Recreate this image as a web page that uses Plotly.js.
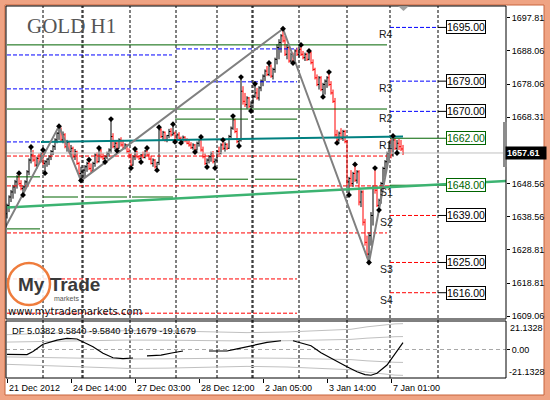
<!DOCTYPE html>
<html>
<head>
<meta charset="utf-8">
<script src="https://cdn.plot.ly/plotly-3.0.1.min.js"></script>
<style>
  html, body { margin: 0; padding: 0; background: #fff; }
  #chart { width: 550px; height: 400px; }
</style>
</head>
<body>
<div id="chart"></div>
<script>
// ---- GOLD H1 price bars (one entry per hourly bar, left to right) ----
const opens = [
  1639.5,1642,1644.5,1646,1647.5,1649,1650.5,1648.5,1647,1647.5,1649,1652,1655.5,1657,1655.5,1654,1656,1655,1657.5,1654.5,
  1655,1655.8,1656.5,1658,1659.5,1661.5,1663.5,1665,1661.5,1663,1659.5,1660.8,1658,1659,1656.5,1658,1654.5,1651.5,1652,1652.5,
  1653.5,1654.5,1653,1652.2,1654.5,1657,1655,1658.5,1656.5,1656,1656.5,1657.5,1658.5,1662.5,1659.5,1660.5,1659,1661.5,1660,1659.2,
  1660,1658,1657,1654,1656.5,1658,1656.5,1656,1657,1656.3,1658.2,1657,1655.8,1654.5,1655.5,1653.5,1654.8,1664.5,1662.5,1663.8,
  1661.5,1662.8,1664,1663,1663.5,1661.5,1663,1662,1661,1662.3,1661.3,1660.5,1660,1659.2,1660,1658.5,1660.5,1661.5,1658.5,1656.5,
  1654.5,1655.5,1656.5,1657.5,1655,1655.5,1658,1657.5,1660,1659,1660.2,1659,1662.5,1665,1667.5,1664,1661,1661.5,1676,1673,
  1672,1674,1671.5,1672.5,1674.5,1675.5,1674,1677,1679,1680.5,1682,1681,1683.5,1680.5,1682.5,1685.5,1689,1690.5,1692.5,1691,
  1687,1689,1685,1687,1685,1688,1687,1688.5,1687,1686,1687,1685.5,1687.5,1684.5,1682.5,1680,1678,1680,1676.5,1678,
  1679,1680,1678,1675.5,1673,1663,1661.5,1663.5,1662,1664,1661,1649,1650,1648.5,1651.5,1649.5,1652,1643,1646,1637,
  1631,1627.5,1633,1639,1647,1646.5,1642,1643.5,1648.5,1653,1655,1657.5,1660.5,1657,1661.5,1659,1660.5,1659.5,1658.8
];
const highs = [
  1642.5,1645,1646.6,1648.1,1649.6,1651,1651.6,1649.5,1648,1649.5,1652.5,1656,1659.4,1658.5,1657,1656.5,1657.5,1657.8,1658.5,1655.5,
  1656,1657,1658.5,1660,1662,1663.8,1665.6,1665.2,1664,1663.5,1661.5,1661,1660,1659.5,1658.8,1658.3,1655,1653.5,1653,1654,
  1655,1655.6,1654.5,1655,1657.5,1657.8,1659.1,1658.8,1657.5,1657,1658,1659,1667.7,1663.5,1661,1661,1662,1662.3,1661.5,1660.5,
  1660.3,1659,1657.5,1657,1658.8,1658.3,1657,1657.3,1658,1658.5,1659.1,1657.8,1656.8,1656,1655.8,1655,1665.3,1665,1664.2,1664,
  1663,1664.8,1665,1666.2,1664,1663.5,1663.8,1662.5,1662.8,1662.6,1662,1661.5,1660.8,1660.5,1660.3,1661,1661.8,1662.4,1659.5,1657.5,
  1656,1657,1658,1658.2,1656,1658.5,1659.5,1660.5,1661.5,1660.8,1660.5,1663,1665.5,1668.6,1667.8,1665,1662,1680.2,1677.5,1675.5,
  1674.5,1674.3,1673,1675,1678.2,1677,1677.5,1679.5,1681,1682.5,1683.5,1684.4,1684,1683,1686,1690,1691.5,1693,1694.6,1692.5,
  1690,1689.5,1687.5,1687.5,1688.5,1689,1689,1689.8,1688,1687.5,1687.5,1688,1687.8,1685.5,1683,1681,1680.5,1680.5,1678.5,1679.5,
  1680.5,1681.7,1679,1676.5,1674,1664.5,1664,1665,1664.5,1664.5,1661.5,1650.5,1652.5,1652,1654.2,1652.5,1652.5,1646.5,1646.5,1638,
  1633,1634,1640,1648,1653.1,1648,1644,1649,1653.5,1655.5,1658,1661,1662,1662.7,1662,1661.5,1661.8,1661.5,1660
];
const lows = [
  1638.1,1640,1643,1644,1645.5,1647,1648,1646.5,1645.1,1646.5,1648,1651,1654.5,1655,1653.5,1653,1654.5,1654.8,1654,1651.6,
  1653.5,1654,1655.5,1657,1658.5,1660.5,1661.5,1661,1660.5,1659,1658,1657.5,1656.5,1656,1655.5,1654,1651,1649.4,1649.8,1650.5,
  1652,1652.5,1651.8,1652,1653.5,1654.5,1654.8,1656,1655.5,1654.9,1655.8,1656.5,1657.5,1659,1658.6,1658.3,1658.9,1659.5,1658.8,1658.7,
  1657.5,1656,1653.1,1653.8,1655.5,1656,1655.5,1654.9,1656,1656,1656.8,1655.5,1654.2,1653.5,1653,1652.5,1654,1662,1661.5,1661,
  1660.8,1662,1662.5,1662.8,1660.9,1661,1661.5,1660.6,1660.8,1660.8,1660.2,1659.5,1658.8,1658.6,1657.9,1658.3,1659.5,1658,1656,1654,
  1653.4,1654.5,1655,1654.5,1653.1,1655,1657,1657.2,1658.5,1658,1658.5,1658.8,1662,1664.5,1663.5,1660.5,1659.7,1661,1672,1671.3,
  1670.8,1671,1670.1,1672,1674,1673.5,1673.2,1676,1677.5,1679,1680.5,1680.5,1680,1679.5,1681.5,1684,1685.5,1687.5,1690.5,1686.5,
  1685.5,1684.5,1684.6,1684.4,1684.8,1686.5,1686,1686.5,1685.5,1685,1685,1685.2,1684,1682,1679.5,1677.5,1676.5,1676,1674.3,1675,
  1677,1677.5,1675,1672.5,1662,1660.6,1661,1661.5,1661.2,1660.5,1648,1645.1,1648,1647.5,1649,1648.5,1642,1641.5,1636,1630,
  1626.5,1625.0,1630,1636,1645.5,1641.5,1640.6,1642.5,1647,1650.5,1653,1655.5,1656,1656.5,1658.5,1657.6,1658.5,1658.2,1657
];
const closes = [
  1642,1644.5,1646,1647.5,1649,1650.5,1648.5,1647,1647.5,1649,1652,1655.5,1657,1655.5,1654,1656,1655,1657.5,1654.5,1655,
  1655.8,1656.5,1658,1659.5,1661.5,1663.5,1665,1661.5,1663,1659.5,1660.8,1658,1659,1656.5,1658,1654.5,1651.5,1652,1652.5,1653.5,
  1654.5,1653,1652.2,1654.5,1657,1655,1658.5,1656.5,1656,1656.5,1657.5,1658.5,1662.5,1659.5,1660.5,1659,1661.5,1660,1659.2,1660,
  1658,1657,1654,1656.5,1658,1656.5,1656,1657,1656.3,1658.2,1657,1655.8,1654.5,1655.5,1653.5,1654.8,1664.5,1662.5,1663.8,1661.5,
  1662.8,1664,1663,1663.5,1661.5,1663,1662,1661,1662.3,1661.3,1660.5,1660,1659.2,1660,1658.5,1660.5,1661.5,1658.5,1656.5,1654.5,
  1655.5,1656.5,1657.5,1655,1655.5,1658,1657.5,1660,1659,1660.2,1659,1662.5,1665,1667.5,1664,1661,1661.5,1676,1673,1672,
  1674,1671.5,1672.5,1674.5,1675.5,1674,1677,1679,1680.5,1682,1681,1683.5,1680.5,1682.5,1685.5,1689,1690.5,1692.5,1691,1687,
  1689,1685,1687,1685,1688,1687,1688.5,1687,1686,1687,1685.5,1687.5,1684.5,1682.5,1680,1678,1680,1676.5,1678,1679,
  1680,1678,1675.5,1673,1663,1661.5,1663.5,1662,1664,1661,1649,1650,1648.5,1651.5,1649.5,1652,1643,1646,1637,1631,
  1627.5,1633,1639,1647,1646.5,1642,1643.5,1648.5,1653,1655,1657.5,1660.5,1657,1661.5,1659,1660.5,1659.5,1658.8,1657.61
];

// Fractal swing points (bar numbers)
const fractalUp = [6,12,18,26,41,46,52,64,70,76,83,97,108,113,117,124,131,138,147,151,161,174,184,193];
const fractalDown = [8,19,37,49,55,62,67,75,84,87,94,100,104,116,122,143,158,165,171,181,186,195];

// ZigZag swing line
const zigzagBars = [-1, 26, 37, 138, 181, 193];
const zigzagPrices = [1635.3, 1665.6, 1649.4, 1694.6, 1625.0, 1662.7];

// Trend lines (two anchor points each)
const tealTrendBars = [17, 198];
const tealTrendPrices = [1660.9, 1662.5];
const greenTrendBars = [0, 249.5];
const greenTrendPrices = [1641.4, 1649.3];

// Earlier pivot levels: [price, fromBar, toBar, kind]  P = pivot, R = resistance, S = support
const pastLevels = [
  [1689.8, 0, 190, 'P'], [1670.7, 0, 190, 'P'],
  [1686.8, 0, 82.5, 'R'], [1688.6, 84.5, 145, 'R'],
  [1676.7, 0, 82.5, 'R'], [1678.8, 84.5, 145, 'R'],
  [1667.7, 84, 104, 'P'], [1667.7, 106, 120.5, 'P'], [1667.7, 124, 145, 'P'],
  [1660.9, 0, 16.5, 'R'],
  [1656.7, 0, 190, 'S'],
  [1650.5, 0, 16.5, 'P'],
  [1647.8, 0, 191.5, 'S'],
  [1644.5, 18, 35.5, 'P'], [1644.5, 39, 60, 'P'], [1644.5, 62.5, 83, 'P'],
  [1649.8, 84, 104, 'P'], [1649.8, 106, 120.5, 'P'], [1649.8, 124, 145, 'P'],
  [1635.0, 0, 16.5, 'P'],
  [1633.8, 0, 190, 'S'],
  [1620.1, 0, 145, 'S'],
  [1609.9, 0, 145, 'S']
];

// Today's levels
const levelNames = ['R4', 'R3', 'R2', 'R1', 'S1', 'S2', 'S3', 'S4'];
const levelValues = [1695.00, 1679.00, 1670.00, 1662.00, 1648.00, 1639.00, 1625.00, 1616.00];
const todayRange = [191.5, 215.5];
const levelTagBar = 219.5;
const levelNameBar = 189.5;

// Day separators (bar positions)
const daySeparators = [18, 37.5, 38, 61.5, 84.5, 105, 122.5, 123, 146, 170, 191.5, 215.5];

// Time axis
const tickBars = [0, 32, 64, 96, 128, 160, 192];
const tickLabels = ['21 Dec 2012', '24 Dec 14:00', '27 Dec 03:00', '28 Dec 12:00', '2 Jan 05:00', '3 Jan 14:00', '7 Jan 01:00'];

// Price axis
const priceTicks = [1697.81, 1688.06, 1678.06, 1668.31, 1648.56, 1638.56, 1628.81, 1618.81, 1609.06];

// DF oscillator (null = no value drawn)
const dfBars = [0,5,10,13,18,25,30,35,38,43,48,53,58,63,66,70,77,83,88,95,101,110,115,122,130,137,140,143,148,152,157,162,166,170,175,179,182,185,190,194,196,198];
const dfValues = [-3.6,-3.9,-3.8,-1.5,3.9,7.0,8.3,7.8,5.8,2.1,-2.8,-6.1,-6.8,-6.3,null,-4.8,-4.1,-2.4,-1.1,null,-1.1,-1.1,0.4,2.8,5.3,6.5,null,6.5,4.6,2.8,-2.4,-6.5,-9.5,-12.8,-16.5,-18.6,-19.1,-17.6,-11.5,-2.8,1.0,5.0382];

// DF bands
const bandBars = [0, 20, 40, 60, 80, 100, 120, 140, 155, 165, 172, 180, 188, 194, 198];
const bandUpperOuter = [11.0, 12.0, 13.5, 14.0, 13.8, 13.0, 12.5, 13.0, 13.8, 14.3, 15.0, 16.8, 18.3, 19.0, 19.1679];
const bandUpperInner = [5.5, 6.0, 6.8, 7.0, 6.9, 6.5, 6.3, 6.5, 6.9, 7.2, 7.5, 8.4, 9.2, 9.5, 9.5840];
const bandLowerInner = [-5.5, -6.0, -6.8, -7.0, -6.9, -6.5, -6.3, -6.5, -6.9, -7.2, -7.5, -8.4, -9.2, -9.5, -9.5840];
const bandLowerOuter = [-11.0, -12.0, -13.5, -14.0, -13.8, -13.0, -12.5, -13.0, -13.8, -14.3, -15.0, -16.8, -18.3, -19.0, -19.1679];
const dfScaleMax = 21.1328;

// ---------------------------------------------------------------
const W = 550, H = 400, ML = 6, MR = 44, MT = 6, MB = 22;
const plotW = W - ML - MR, plotH = H - MT - MB;
const px = x => (x - ML) / plotW;
const py = y => (H - MB - y) / plotH;

const FONT = 'Liberation Sans, Arial, sans-serif';
const GREEN = '#006400', BLUE = '#0000ff', RED = '#ff0000';

const barIndex = closes.map((_, i) => i);
const lastClose = closes[closes.length - 1];

const traces = [];

// earlier levels
function pastTrace(kind, color, dash) {
  const xs = [], ys = [];
  pastLevels.filter(s => s[3] === kind).forEach(s => {
    xs.push(s[1], s[2], null); ys.push(s[0], s[0], null);
  });
  return { type: 'scatter', mode: 'lines', x: xs, y: ys, xaxis: 'x', yaxis: 'y',
           line: { color, width: 1, dash }, hoverinfo: 'skip' };
}
traces.push(pastTrace('R', BLUE, '4px,2px'));
traces.push(pastTrace('S', RED, '4px,2px'));
traces.push(pastTrace('P', GREEN, 'solid'));

// today's levels and their leaders to the value tags
levelNames.forEach((name, k) => {
  const v = levelValues[k];
  const pivotLike = name === 'R1' || name === 'S1';
  const col = pivotLike ? GREEN : (name[0] === 'R' ? BLUE : RED);
  traces.push({ type: 'scatter', mode: 'lines', x: todayRange, y: [v, v], xaxis: 'x', yaxis: 'y',
    line: { color: col, width: 1, dash: pivotLike ? 'solid' : '4px,2px' }, hoverinfo: 'skip' });
  traces.push({ type: 'scatter', mode: 'lines', x: [todayRange[1], levelTagBar], y: [v, v], xaxis: 'x', yaxis: 'y',
    line: { color: pivotLike ? GREEN : '#000', width: 1 }, hoverinfo: 'skip' });
});

// bid line
traces.push({ type: 'scatter', mode: 'lines', x: [-0.5, 249.5], y: [lastClose, lastClose], xaxis: 'x', yaxis: 'y',
  line: { color: '#c0c0c0', width: 1 }, hoverinfo: 'skip' });

// trend lines
traces.push({ type: 'scatter', mode: 'lines', x: greenTrendBars, y: greenTrendPrices, xaxis: 'x', yaxis: 'y',
  line: { color: '#3cb371', width: 2.5 }, hoverinfo: 'skip' });
traces.push({ type: 'scatter', mode: 'lines', x: tealTrendBars, y: tealTrendPrices, xaxis: 'x', yaxis: 'y',
  line: { color: '#008080', width: 2 }, hoverinfo: 'skip' });

// price bars
traces.push({ type: 'ohlc', x: barIndex, open: opens, high: highs, low: lows, close: closes,
  xaxis: 'x', yaxis: 'y', tickwidth: 0.5,
  increasing: { line: { color: '#000000', width: 1 } },
  decreasing: { line: { color: '#ff0000', width: 1 } },
  hoverinfo: 'skip' });

// zigzag
traces.push({ type: 'scatter', mode: 'lines', x: zigzagBars, y: zigzagPrices, xaxis: 'x', yaxis: 'y',
  line: { color: '#808080', width: 2 }, hoverinfo: 'skip' });

// fractal markers
traces.push({ type: 'scatter', mode: 'markers', xaxis: 'x', yaxis: 'y', hoverinfo: 'skip',
  x: fractalUp.concat(fractalDown),
  y: fractalUp.map(i => highs[i]).concat(fractalDown.map(i => lows[i])),
  marker: { symbol: 'diamond', size: 4.5, color: '#000', line: { width: 0 } } });

// oscillator panel
const bandStyle = { color: '#c0c0c0', width: 1 };
[bandUpperOuter, bandUpperInner, bandLowerInner, bandLowerOuter].forEach(b => {
  traces.push({ type: 'scatter', mode: 'lines', x: bandBars, y: b, xaxis: 'x', yaxis: 'y2',
    line: bandStyle, hoverinfo: 'skip' });
});
traces.push({ type: 'scatter', mode: 'lines', x: [-0.5, 249.5], y: [0, 0], xaxis: 'x', yaxis: 'y2',
  line: { color: '#a8a8a8', width: 1, dash: '4px,3px' }, hoverinfo: 'skip' });
traces.push({ type: 'scatter', mode: 'lines', x: dfBars, y: dfValues, xaxis: 'x', yaxis: 'y2',
  connectgaps: false, line: { color: '#000', width: 1.2 }, hoverinfo: 'skip' });

// ---- shapes ----
const shapes = [];
// white chart area inside the frame
shapes.push({ type: 'rect', xref: 'paper', yref: 'paper', layer: 'below',
  x0: px(5), x1: px(544), y0: py(395), y1: py(5),
  fillcolor: '#ffffff', line: { color: '#c8643c', width: 1 } });
// day separators
daySeparators.forEach(b => shapes.push({ type: 'line', xref: 'x', yref: 'paper', layer: 'below',
  x0: b, x1: b, y0: 0, y1: 1, line: { color: '#000', width: 1, dash: '3px,2px' } }));
// panel frames
shapes.push({ type: 'rect', xref: 'paper', yref: 'y domain', x0: 0, x1: 1, y0: 0, y1: 1,
  line: { color: '#000', width: 1 }, layer: 'above' });
shapes.push({ type: 'rect', xref: 'paper', yref: 'y2 domain', x0: 0, x1: 1, y0: 0, y1: 1,
  line: { color: '#000', width: 1 }, layer: 'above' });
// price scale handle and shift marker
shapes.push({ type: 'rect', xref: 'paper', yref: 'paper', layer: 'above',
  x0: px(503), x1: px(507), y0: py(167), y1: py(122), fillcolor: '#8c8c8c', line: { width: 0 } });
shapes.push({ type: 'path', xref: 'paper', yref: 'paper', layer: 'above',
  path: `M ${px(398)} ${py(6)} L ${px(409)} ${py(6)} L ${px(403.5)} ${py(11)} Z`,
  fillcolor: '#a0a0a0', line: { width: 0 } });
// logo ring
shapes.push({ type: 'circle', xref: 'paper', yref: 'paper', layer: 'above',
  x0: px(8), x1: px(50), y0: py(305), y1: py(263),
  fillcolor: 'rgba(255,255,255,0.85)', line: { color: '#ef7c3c', width: 2.5 } });

// ---- annotations ----
const ann = [];
ann.push({ xref: 'paper', yref: 'paper', x: px(25), y: py(26), xanchor: 'left', yanchor: 'middle',
  text: 'GOLD H1', showarrow: false,
  font: { family: 'Liberation Serif, Times New Roman, serif', size: 21, color: '#555555' } });

levelNames.forEach((name, k) => {
  const v = levelValues[k];
  const pivotLike = name === 'R1' || name === 'S1';
  ann.push({ xref: 'x', yref: 'y', x: levelNameBar, y: v, yshift: -7, xanchor: 'center', yanchor: 'middle',
    text: name, showarrow: false, font: { family: FONT, size: 10.5, color: '#1a1a1a' } });
  ann.push({ xref: 'x', yref: 'y', x: levelTagBar, y: v, xanchor: 'left', yanchor: 'middle',
    text: v.toFixed(2), showarrow: false, bgcolor: '#ffffff',
    bordercolor: pivotLike ? GREEN : '#000', borderwidth: 1, borderpad: 0,
    font: { family: FONT, size: 10.5, color: pivotLike ? GREEN : '#000' } });
});

// last price tag on the scale
ann.push({ xref: 'paper', yref: 'y', x: 1, y: lastClose, xanchor: 'left', yanchor: 'middle', xshift: -1,
  text: '<b>' + lastClose.toFixed(2) + '</b>', showarrow: false, bgcolor: '#000', borderpad: 1,
  width: 38, align: 'left', font: { family: FONT, size: 9, color: '#fff' } });

// time labels
tickBars.forEach((b, k) => ann.push({ xref: 'x', yref: 'paper', x: b, y: 0, yshift: -3,
  xanchor: 'left', yanchor: 'top', text: tickLabels[k], showarrow: false,
  font: { family: FONT, size: 9, color: '#000' } }));

// oscillator legend and scale ends
const last = a => a[a.length - 1];
ann.push({ xref: 'paper', yref: 'paper', x: px(10), y: py(331), xanchor: 'left', yanchor: 'middle',
  text: 'DF ' + [last(dfValues), last(bandUpperInner), last(bandLowerInner), last(bandUpperOuter), last(bandLowerOuter)]
    .map(v => v.toFixed(4)).join(' '),
  showarrow: false, font: { family: FONT, size: 9.3, color: '#000' } });
ann.push({ xref: 'paper', yref: 'paper', x: 1, xshift: 2, y: py(328), xanchor: 'left', yanchor: 'middle',
  text: dfScaleMax.toFixed(4), showarrow: false, font: { family: FONT, size: 9, color: '#000' } });
ann.push({ xref: 'paper', yref: 'paper', x: 1, xshift: 1, y: py(372), xanchor: 'left', yanchor: 'middle',
  text: (-dfScaleMax).toFixed(4), showarrow: false, font: { family: FONT, size: 9, color: '#000' } });

// logo
ann.push({ xref: 'paper', yref: 'paper', x: px(16), y: py(284), xanchor: 'left', yanchor: 'middle',
  text: '<b>My Trade</b>', showarrow: false, font: { family: FONT, size: 19, color: '#3a3a3a' } });
ann.push({ xref: 'paper', yref: 'paper', x: px(52), y: py(298), xanchor: 'left', yanchor: 'middle',
  text: 'markets', showarrow: false, font: { family: FONT, size: 7, color: '#555' } });
ann.push({ xref: 'paper', yref: 'paper', x: px(6), y: py(311), xanchor: 'left', yanchor: 'middle',
  text: 'www.mytrademarkets.com', showarrow: false, font: { family: 'DejaVu Sans, sans-serif', size: 10, color: '#111' } });

const layout = {
  width: W, height: H,
  margin: { l: ML, r: MR, t: MT, b: MB, pad: 0 },
  paper_bgcolor: '#efa383', plot_bgcolor: '#ffffff',
  showlegend: false, hovermode: false,
  font: { family: FONT, size: 9, color: '#000' },
  xaxis: { type: 'linear', range: [-0.5, 249.5], anchor: 'y2', showgrid: false, zeroline: false,
    showline: false, ticks: 'outside', ticklen: 4, tickcolor: '#000', tickvals: tickBars,
    showticklabels: false, rangeslider: { visible: false }, fixedrange: true },
  yaxis: { domain: [py(319), 1], range: [1608.17, 1701.38], side: 'right', anchor: 'x',
    showgrid: false, zeroline: false, showline: false, ticks: 'outside', ticklen: 3, tickcolor: '#000',
    tickvals: priceTicks, ticktext: priceTicks.map(v => v.toFixed(2)),
    tickfont: { family: FONT, size: 9, color: '#000' }, fixedrange: true },
  yaxis2: { domain: [0, py(321)], range: [-dfScaleMax, dfScaleMax], side: 'right', anchor: 'x',
    showgrid: false, zeroline: false, showline: false, ticks: 'outside', ticklen: 3, tickcolor: '#000',
    tickvals: [0], ticktext: ['0.00'], tickfont: { family: FONT, size: 9, color: '#000' }, fixedrange: true },
  shapes: shapes,
  annotations: ann
};

Plotly.newPlot('chart', traces, layout, { staticPlot: true, displayModeBar: false });
</script>
</body>
</html>
